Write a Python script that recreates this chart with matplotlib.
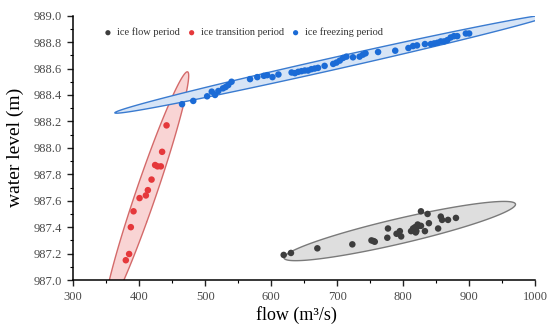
import numpy as np
import matplotlib.pyplot as plt
from matplotlib.ticker import MultipleLocator, FormatStrFormatter

# ice flow period
flow_gray = [619, 630, 670, 723, 752, 755, 757, 776, 777, 790, 795, 797, 812, 815, 818,
             820, 822, 824, 827, 819, 827, 837, 833, 839, 853, 857, 859, 868, 880]
level_gray = [987.19, 987.205, 987.24, 987.27, 987.30, 987.295, 987.29, 987.32, 987.39,
              987.35, 987.37, 987.33, 987.37, 987.39, 987.40, 987.37, 987.42, 987.41,
              987.41, 987.36, 987.52, 987.50, 987.37, 987.43, 987.39, 987.48, 987.455,
              987.455, 987.47]

# ice transition period
flow_red = [379.8, 384.8, 387.4, 391.5, 400.6, 410.2, 413.2, 418.8, 424.2, 427.9, 432.9, 434.8, 441.5]
level_red = [987.15, 987.197, 987.40, 987.52, 987.62, 987.64, 987.68, 987.76, 987.87,
             987.86, 987.86, 987.97, 988.17]

# ice freezing period
flow_blue = [465, 482, 503, 510, 515, 520, 527, 531, 535, 540, 568, 579, 589, 594, 602,
             611, 631, 636, 641, 646, 651, 656, 661, 666, 671, 681, 694, 699, 704, 709,
             714, 724, 734, 739, 743, 762, 788, 808, 815, 821, 833, 842, 847, 852, 857,
             862, 867, 872, 877, 882, 895, 900]
level_blue = [988.33, 988.355, 988.39, 988.425, 988.40, 988.43, 988.45, 988.46, 988.475,
              988.50, 988.52, 988.535, 988.545, 988.55, 988.535, 988.555, 988.57, 988.565,
              988.575, 988.58, 988.585, 988.585, 988.595, 988.60, 988.605, 988.62, 988.635,
              988.645, 988.66, 988.68, 988.69, 988.685, 988.69, 988.705, 988.715, 988.725,
              988.735, 988.755, 988.77, 988.775, 988.785, 988.785, 988.79, 988.795, 988.805,
              988.805, 988.815, 988.835, 988.845, 988.845, 988.865, 988.865]

labels = ["ice flow period", "ice transition period", "ice freezing period"]


def prediction_ellipse(x, y, p=0.95):
    # 95% prediction ellipse (F quantile with 2 dof has a closed form)
    x = np.asarray(x, float)
    y = np.asarray(y, float)
    n = len(x)
    d2 = n - 2
    fq = d2 / 2 * ((1 - p) ** (-2 / d2) - 1)
    k = np.sqrt(2 * (n - 1) * (n + 1) / (n * (n - 2)) * fq)
    cov = np.cov(x, y)
    vals, vecs = np.linalg.eigh(cov)
    t = np.linspace(0, 2 * np.pi, 300)
    circ = np.vstack([np.cos(t), np.sin(t)])
    pts = vecs @ (np.sqrt(vals)[:, None] * circ) * k
    return x.mean() + pts[0], y.mean() + pts[1]


plt.rcParams['font.family'] = ['Liberation Serif', 'DejaVu Serif']

fig = plt.figure(figsize=(5.5, 3.33), dpi=100)
ax = fig.add_axes([0.133, 0.159, 0.84, 0.794])

groups = [
    (flow_gray, level_gray, "#3d3d3d", "#dedede", "#7a7a7a"),
    (flow_red, level_red, "#e5383b", "#f9d4d4", "#d46a6a"),
    (flow_blue, level_blue, "#1b6bd6", "#d6e4f6", "#3a7bd0"),
]

for (fx, fy, c, fill, edge), lab in zip(groups, labels):
    ex, ey = prediction_ellipse(fx, fy)
    ax.fill(ex, ey, facecolor=fill, edgecolor=edge, linewidth=1.0, zorder=1)
    ax.scatter(fx, fy, s=22, color=c, edgecolors='none', zorder=3, label=lab)

ax.set_xlim(300, 1000)
ax.set_ylim(987.0, 989.0)
ax.xaxis.set_major_locator(MultipleLocator(100))
ax.xaxis.set_minor_locator(MultipleLocator(50))
ax.yaxis.set_major_locator(MultipleLocator(0.2))
ax.yaxis.set_minor_locator(MultipleLocator(0.1))
ax.yaxis.set_major_formatter(FormatStrFormatter('%.1f'))

for s in ['top', 'right']:
    ax.spines[s].set_visible(False)
for s in ['left', 'bottom']:
    ax.spines[s].set_linewidth(1.1)
ax.tick_params(which='major', direction='out', length=4, width=1, labelsize=9, pad=4, colors='#222222')
ax.tick_params(which='minor', direction='out', length=2, width=0.8)
for lbl in ax.get_xticklabels() + ax.get_yticklabels():
    lbl.set_color('#4a4a4a')

ax.set_xlabel("flow (m³/s)", fontsize=13)
ax.xaxis.set_label_coords(0.483, -0.098)
ax.set_ylabel("water level (m)", fontsize=14, labelpad=7)

leg = ax.legend(loc='upper left', bbox_to_anchor=(0.055, 0.97), ncol=3, frameon=False,
                fontsize=7.5, handletextpad=0.4, columnspacing=0.6, handlelength=1.0,
                markerscale=0.8, borderaxespad=0)
for txt in leg.get_texts():
    txt.set_color('#333333')

fig.savefig("out.png", dpi=100)
